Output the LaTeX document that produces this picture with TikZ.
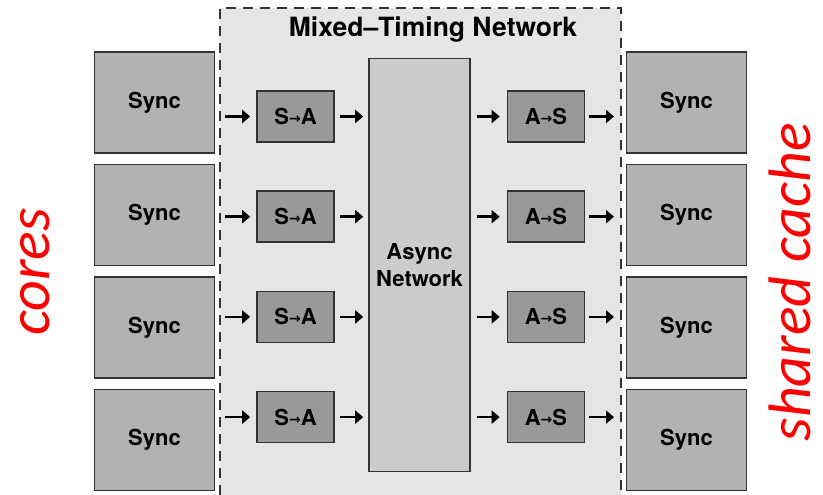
\documentclass[tikz,border=0pt]{standalone}
\usepackage{fontspec}
\setmainfont{TeX Gyre Heros}
\newfontfamily\redfont{Carlito}
\newfontfamily\arrfont{DejaVu Sans}
\usetikzlibrary{arrows.meta}

\definecolor{bggray}{gray}{0.90}
\definecolor{syncgray}{gray}{0.70}
\definecolor{convgray}{gray}{0.60}
\definecolor{netgray}{gray}{0.80}
\definecolor{edgegray}{gray}{0.20}

\tikzset{
  syncbox/.style={draw=edgegray, line width=1.6pt, fill=syncgray, minimum width=120pt, minimum height=101pt, font=\bfseries\fontsize{22}{25}\selectfont},
  convbox/.style={draw=edgegray, line width=1.6pt, fill=convgray, minimum width=77pt, minimum height=51pt, font=\bfseries\fontsize{22}{25}\selectfont},
  arr/.style={-{Triangle[length=8pt,width=13pt]}, line width=2.5pt},
  sidelabel/.style={text=red, inner sep=0pt, font=\redfont\itshape\fontsize{60}{62}\selectfont, rotate=90}
}
\newcommand{\smallarr}{{\arrfont\fontsize{14}{14}\selectfont\raisebox{1pt}{→}}}

\begin{document}
\begin{tikzpicture}[x=1pt, y=-1pt]
        \useasboundingbox (0,0) rectangle (823,495);
        % network region
        \fill[bggray] (220,8) rectangle (621,495);
        \draw[edgegray, line width=2.6pt, dash pattern=on 10pt off 7pt] (220,495) -- (220,8) -- (621,8) -- (621,495);
        \node[font=\bfseries\fontsize{26.5}{29}\selectfont] (title) at (433,30) {Mixed--Timing Network};
        \node[draw=edgegray, line width=1.6pt, fill=netgray, minimum width=101pt, minimum height=413pt, align=center, font=\bfseries\fontsize{22}{27}\selectfont] (async) at (419.5,265) {Async\\Network};
        % rows
        \foreach \i in {1,...,4} {
            \node[syncbox] (core\i) at (154.5,{102.5+112.5*(\i-1)}) {Sync};
            \node[syncbox] (cache\i) at (686.5,{102.5+112.5*(\i-1)}) {Sync};
            \node[convbox] (sa\i) at (295.5,{116.5+100.2*(\i-1)}) {S\smallarr A};
            \node[convbox] (as\i) at (546,{116.5+100.2*(\i-1)}) {A\smallarr S};
            \coordinate (in\i) at (220,{116.5+100.2*(\i-1)});
            \coordinate (out\i) at (621,{116.5+100.2*(\i-1)});
            \draw[arr, shorten <=5pt, shorten >=6pt] (in\i) -- (sa\i.west);
            \draw[arr, shorten <=5pt, shorten >=5pt] (sa\i.east) -- (sa\i.east -| async.west);
            \draw[arr, shorten <=6pt, shorten >=7pt] (as\i.west -| async.east) -- (as\i.west);
            \draw[arr, shorten <=4pt, shorten >=7pt] (as\i.east) -- (out\i);
        }
        % side labels
        \node[sidelabel] (cores) at (35,272) {cores};
        \node[sidelabel] (shared) at (790,282) {shared cache};
    \end{tikzpicture}
\end{document}
